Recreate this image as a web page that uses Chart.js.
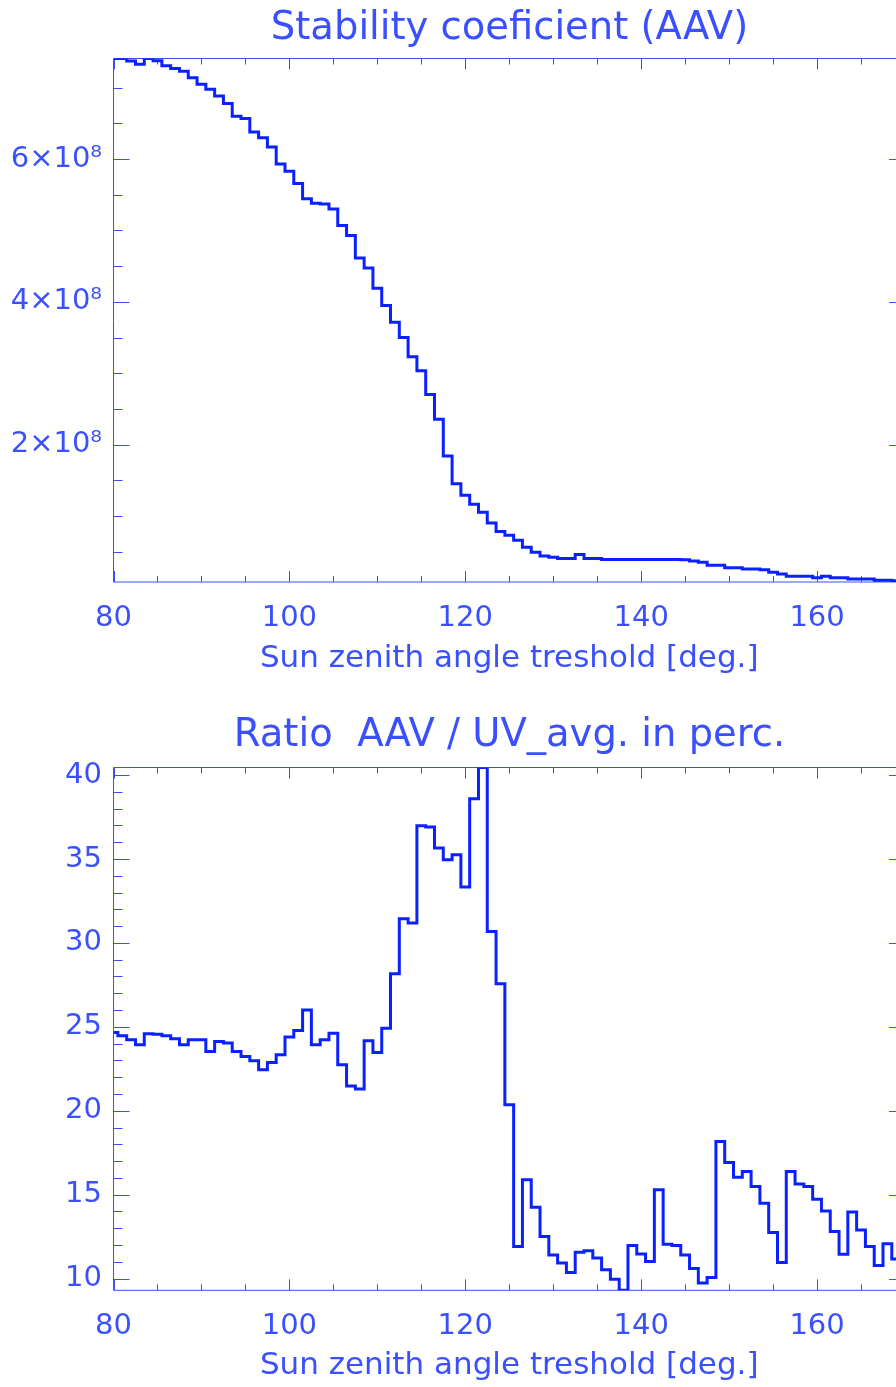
<!DOCTYPE html>
<html>
<head>
<meta charset="utf-8">
<script src="https://cdn.jsdelivr.net/npm/chart.js@4.4.0/dist/chart.umd.min.js"></script>
<style>
  html, body { margin: 0; padding: 0; background: #fff; overflow: hidden; }
  canvas { display: block; }
</style>
</head>
<body>
<canvas id="aavChart" width="1019" height="700"></canvas>
<canvas id="ratioChart" width="1019" height="687"></canvas>
<script>
// sun zenith angle threshold, one value per degree
const angles = [
  80, 81, 82, 83, 84, 85, 86, 87, 88, 89,
  90, 91, 92, 93, 94, 95, 96, 97, 98, 99,
  100, 101, 102, 103, 104, 105, 106, 107, 108, 109,
  110, 111, 112, 113, 114, 115, 116, 117, 118, 119,
  120, 121, 122, 123, 124, 125, 126, 127, 128, 129,
  130, 131, 132, 133, 134, 135, 136, 137, 138, 139,
  140, 141, 142, 143, 144, 145, 146, 147, 148, 149,
  150, 151, 152, 153, 154, 155, 156, 157, 158, 159,
  160, 161, 162, 163, 164, 165, 166, 167, 168, 169,
  170
];

// stability coeficient (AAV)
const aavValues = [
  7.41e8, 7.41e8, 7.375e8, 7.33e8, 7.41e8, 7.38e8, 7.31e8, 7.27e8, 7.23e8, 7.14e8,
  7.05e8, 6.98e8, 6.885e8, 6.78e8, 6.60e8, 6.57e8, 6.38e8, 6.30e8, 6.17e8, 5.93e8,
  5.83e8, 5.66e8, 5.445e8, 5.38e8, 5.37e8, 5.30e8, 5.07e8, 4.93e8, 4.615e8, 4.475e8,
  4.19e8, 3.95e8, 3.715e8, 3.50e8, 3.23e8, 3.035e8, 2.70e8, 2.355e8, 1.84e8, 1.45e8,
  1.29e8, 1.165e8, 1.05e8, 0.90e8, 0.78e8, 0.73e8, 0.66e8, 0.56e8, 0.49e8, 0.44e8,
  0.42e8, 0.405e8, 0.405e8, 0.46e8, 0.405e8, 0.405e8, 0.39e8, 0.39e8, 0.39e8, 0.39e8,
  0.39e8, 0.39e8, 0.39e8, 0.39e8, 0.39e8, 0.385e8, 0.368e8, 0.35e8, 0.31e8, 0.31e8,
  0.275e8, 0.275e8, 0.255e8, 0.255e8, 0.246e8, 0.21e8, 0.186e8, 0.154e8, 0.154e8, 0.154e8,
  0.134e8, 0.154e8, 0.134e8, 0.134e8, 0.116e8, 0.116e8, 0.116e8, 0.10e8, 0.10e8, 0.09e8,
  0.074e8
];

// ratio AAV / UV_avg in percent
const ratioValues = [
  24.66, 24.46, 24.23, 23.93, 24.58, 24.55, 24.46, 24.29, 23.93, 24.23,
  24.23, 23.53, 24.13, 24.03, 23.53, 23.23, 22.97, 22.44, 22.87, 23.33,
  24.39, 24.78, 26.0, 23.93, 24.23, 24.62, 22.74, 21.48, 21.3, 24.17,
  23.47, 24.92, 28.16, 31.44, 31.18, 36.98, 36.9, 35.65, 34.95, 35.25,
  33.33, 38.59, 40.45, 30.68, 27.56, 20.35, 11.91, 15.88, 14.25, 12.5,
  11.41, 10.92, 10.36, 11.57, 11.65, 11.22, 10.52, 9.96, 9.3, 11.97,
  11.47, 11.01, 15.29, 12.05, 11.97, 11.41, 10.6, 9.73, 10.07, 18.17,
  16.91, 16.04, 16.38, 15.48, 14.49, 12.74, 10.96, 16.38, 15.64, 15.48,
  14.73, 14.03, 12.8, 11.45, 13.96, 12.9, 11.91, 10.78, 12.07, 11.16,
  11.2
];

// tick marks: labelled (major) and unlabelled (minor)
const xLabelTicks = [80, 100, 120, 140, 160];
const xMinorTicks = [85, 90, 95, 105, 110, 115, 125, 130, 135, 145, 150, 155, 165];
const aavLabelTicks = [2e8, 4e8, 6e8];
const aavMinorTicks = [0.5e8, 1e8, 1.5e8, 2.5e8, 3e8, 3.5e8, 4.5e8, 5e8, 5.5e8, 6.5e8, 7e8];
const ratioLabelTicks = [10, 15, 20, 25, 30, 35, 40];
const ratioMinorTicks = [11, 12, 13, 14, 16, 17, 18, 19, 21, 22, 23, 24, 26, 27, 28, 29,
  31, 32, 33, 34, 36, 37, 38, 39];

const xTitle = 'Sun zenith angle treshold [deg.]';
const family = 'DejaVu Sans';
const textColor = '#3a50ff';
const lineColor = '#0a20ff';

function isIn(list, v) {
  return list.some(m => Math.abs(m - v) <= 1e-6 * Math.max(1, Math.abs(m)));
}

function tickList(major, minor) {
  return major.concat(minor).sort((a, b) => a - b).map(v => ({ value: v }));
}

// IDL style box with ticks pointing inwards on all four sides
function boxTicks(yMajor) {
  return {
    id: 'boxTicks',
    beforeDatasetsDraw(chart) {
      const { ctx, chartArea: a, scales: { x, y } } = chart;
      ctx.save();
      ctx.strokeStyle = textColor;
      ctx.lineWidth = 1;
      ctx.beginPath();
      ctx.rect(a.left, a.top, a.right - a.left, a.bottom - a.top);
      x.ticks.forEach(t => {
        const px = Math.round(x.getPixelForValue(t.value)) + 0.5;
        const len = isIn(xLabelTicks, t.value) ? 11 : 6;
        ctx.moveTo(px, a.bottom); ctx.lineTo(px, a.bottom - len);
        ctx.moveTo(px, a.top); ctx.lineTo(px, a.top + len);
      });
      y.ticks.forEach(t => {
        const py = Math.round(y.getPixelForValue(t.value)) + 0.5;
        const len = isIn(yMajor, t.value) ? 16 : 9;
        ctx.moveTo(a.left, py); ctx.lineTo(a.left + len, py);
        ctx.moveTo(a.right, py); ctx.lineTo(a.right - len, py);
      });
      ctx.stroke();
      ctx.restore();
    }
  };
}

function makeChart(id, o) {
  return new Chart(document.getElementById(id), {
    type: 'line',
    data: {
      datasets: [{
        data: angles.map((a, i) => ({ x: a, y: o.values[i] })),
        borderColor: lineColor,
        borderWidth: 3,
        pointRadius: 0,
        stepped: 'middle',
        fill: false
      }]
    },
    options: {
      responsive: false,
      animation: false,
      events: [],
      layout: { padding: 0 },
      plugins: {
        legend: { display: false },
        tooltip: { enabled: false },
        title: {
          display: true,
          text: o.title,
          color: textColor,
          font: { family, size: 38.5, weight: 'normal' },
          padding: { top: o.titleTop, bottom: o.titleBottom }
        }
      },
      scales: {
        x: {
          type: 'linear',
          min: 80,
          max: 170,
          grid: { display: false, drawTicks: false },
          border: { display: false },
          afterBuildTicks: s => { s.ticks = tickList(xLabelTicks, xMinorTicks); },
          ticks: {
            autoSkip: false,
            maxRotation: 0,
            minRotation: 0,
            padding: 19,
            color: textColor,
            font: { family, size: 29 },
            callback: v => isIn(xLabelTicks, v) ? String(v) : ''
          },
          title: {
            display: true,
            text: xTitle,
            color: textColor,
            font: { family, size: 31 },
            padding: { top: 0, bottom: o.xTitleBottom }
          },
          afterFit: s => { s.height = o.xHeight; }
        },
        y: {
          min: o.yMin,
          max: o.yMax,
          grid: { display: false, drawTicks: false },
          border: { display: false },
          afterBuildTicks: s => { s.ticks = tickList(o.yMajor, o.yMinor); },
          ticks: {
            autoSkip: false,
            padding: 11.5,
            color: textColor,
            font: { family, size: 29 },
            callback: v => isIn(o.yMajor, v) ? o.yLabel(v) : ''
          },
          afterFit: s => { s.width = 113.5; }
        },
        y2: {
          position: 'right',
          grid: { display: false, drawTicks: false },
          border: { display: false },
          ticks: { display: false },
          afterFit: s => { s.width = 114; }
        }
      }
    },
    plugins: [boxTicks(o.yMajor)]
  });
}

makeChart('aavChart', {
  title: 'Stability coeficient (AAV)',
  values: aavValues,
  yMin: 0.074e8,
  yMax: 7.41e8,
  yMajor: aavLabelTicks,
  yMinor: aavMinorTicks,
  yLabel: v => Math.round(v / 1e8) + '\u00d710\u2078',
  titleTop: 6,
  titleBottom: 6.3,
  xHeight: 118,
  xTitleBottom: 22.4
});

makeChart('ratioChart', {
  title: 'Ratio  AAV / UV_avg. in perc.',
  values: ratioValues,
  yMin: 9.3,
  yMax: 40.45,
  yMajor: ratioLabelTicks,
  yMinor: ratioMinorTicks,
  yLabel: v => String(Math.round(v)),
  titleTop: 13.3,
  titleBottom: 8,
  xHeight: 96.7,
  xTitleBottom: 2.4
});
</script>
</body>
</html>
